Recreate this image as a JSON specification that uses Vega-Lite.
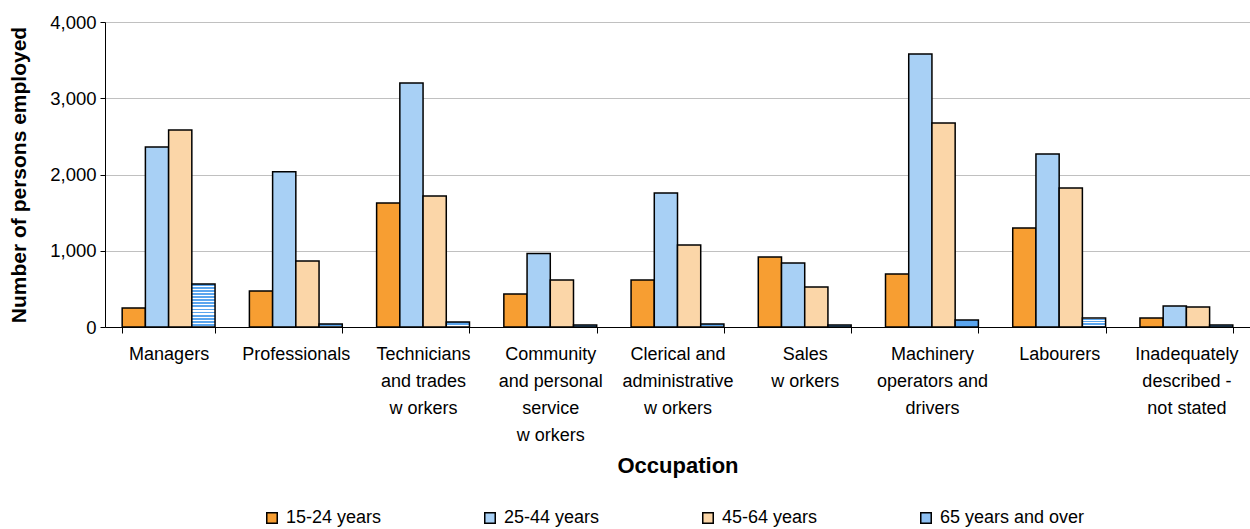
{
  "$schema": "https://vega.github.io/schema/vega-lite/v6.json",
  "autosize": "none",
  "width": 1145,
  "height": 305,
  "padding": {"left": 105, "top": 22, "right": 0, "bottom": 202},
  "config": {
    "font": "Liberation Sans",
    "view": {"stroke": null},
    "axis": {"labelColor": "black", "titleColor": "black", "labelFont": "Liberation Sans", "titleFont": "Liberation Sans"},
    "legend": {"padding": 0}
  },
  "data": {
    "values": [
      {"occupation": "Managers", "age": "15-24 years", "persons": 250},
      {"occupation": "Managers", "age": "25-44 years", "persons": 2360},
      {"occupation": "Managers", "age": "45-64 years", "persons": 2585},
      {"occupation": "Managers", "age": "65 years and over", "persons": 565},
      {"occupation": "Professionals", "age": "15-24 years", "persons": 472},
      {"occupation": "Professionals", "age": "25-44 years", "persons": 2035},
      {"occupation": "Professionals", "age": "45-64 years", "persons": 866},
      {"occupation": "Professionals", "age": "65 years and over", "persons": 40},
      {"occupation": "Technicians and trades workers", "age": "15-24 years", "persons": 1626},
      {"occupation": "Technicians and trades workers", "age": "25-44 years", "persons": 3200},
      {"occupation": "Technicians and trades workers", "age": "45-64 years", "persons": 1718},
      {"occupation": "Technicians and trades workers", "age": "65 years and over", "persons": 66},
      {"occupation": "Community and personal service workers", "age": "15-24 years", "persons": 433},
      {"occupation": "Community and personal service workers", "age": "25-44 years", "persons": 965},
      {"occupation": "Community and personal service workers", "age": "45-64 years", "persons": 616},
      {"occupation": "Community and personal service workers", "age": "65 years and over", "persons": 26},
      {"occupation": "Clerical and administrative workers", "age": "15-24 years", "persons": 616},
      {"occupation": "Clerical and administrative workers", "age": "25-44 years", "persons": 1757},
      {"occupation": "Clerical and administrative workers", "age": "45-64 years", "persons": 1075},
      {"occupation": "Clerical and administrative workers", "age": "65 years and over", "persons": 40},
      {"occupation": "Sales workers", "age": "15-24 years", "persons": 918},
      {"occupation": "Sales workers", "age": "25-44 years", "persons": 839},
      {"occupation": "Sales workers", "age": "45-64 years", "persons": 525},
      {"occupation": "Sales workers", "age": "65 years and over", "persons": 26},
      {"occupation": "Machinery operators and drivers", "age": "15-24 years", "persons": 695},
      {"occupation": "Machinery operators and drivers", "age": "25-44 years", "persons": 3580},
      {"occupation": "Machinery operators and drivers", "age": "45-64 years", "persons": 2675},
      {"occupation": "Machinery operators and drivers", "age": "65 years and over", "persons": 92},
      {"occupation": "Labourers", "age": "15-24 years", "persons": 1298},
      {"occupation": "Labourers", "age": "25-44 years", "persons": 2269},
      {"occupation": "Labourers", "age": "45-64 years", "persons": 1823},
      {"occupation": "Labourers", "age": "65 years and over", "persons": 118},
      {"occupation": "Inadequately described - not stated", "age": "15-24 years", "persons": 118},
      {"occupation": "Inadequately described - not stated", "age": "25-44 years", "persons": 275},
      {"occupation": "Inadequately described - not stated", "age": "45-64 years", "persons": 262},
      {"occupation": "Inadequately described - not stated", "age": "65 years and over", "persons": 26}
    ]
  },
  "mark": {"type": "bar", "stroke": "black", "strokeWidth": 1.5},
  "encoding": {
    "x": {
      "field": "occupation",
      "type": "nominal",
      "sort": null,
      "scale": {"paddingInner": 0.27, "paddingOuter": 0.135},
      "axis": {
        "title": "Occupation",
        "titleFontSize": 22,
        "titleFontWeight": "bold",
        "titlePadding": 11,
        "labelAngle": 0,
        "labelFontSize": 18,
        "labelLineHeight": 27,
        "labelBaseline": "top",
        "labelPadding": 12,
        "labelLimit": 200,
        "tickBand": "extent",
        "tickSize": 6,
        "tickColor": "black",
        "domainColor": "black",
        "labelExpr": "{'Technicians and trades workers': ['Technicians', 'and trades', 'w orkers'], 'Community and personal service workers': ['Community', 'and personal', 'service', 'w orkers'], 'Clerical and administrative workers': ['Clerical and', 'administrative', 'w orkers'], 'Sales workers': ['Sales', 'w orkers'], 'Machinery operators and drivers': ['Machinery', 'operators and', 'drivers'], 'Inadequately described - not stated': ['Inadequately', 'described -', 'not stated']}[datum.value] || datum.value"
      }
    },
    "xOffset": {"field": "age", "type": "nominal", "scale": {"paddingInner": 0, "paddingOuter": 0}},
    "y": {
      "field": "persons",
      "type": "quantitative",
      "scale": {"domain": [0, 4000]},
      "axis": {
        "title": "Number of persons employed",
        "titleFontSize": 21,
        "titleFontWeight": "bold",
        "titlePadding": 20,
        "values": [0, 1000, 2000, 3000, 4000],
        "format": ",.0f",
        "labelFontSize": 18.5,
        "labelPadding": 4,
        "tickSize": 5,
        "tickColor": "black",
        "domainColor": "black",
        "gridColor": "#c0c0c0",
        "gridWidth": 1
      }
    },
    "fill": {
      "condition": {
        "test": "datum.age === '65 years and over'",
        "value": {
          "gradient": "linear", "x1": 0, "y1": 0, "x2": 0, "y2": 1,
          "stops": [
            {"offset": 0, "color": "#5aa5ee"}, {"offset": 0.0429, "color": "#5aa5ee"}, {"offset": 0.0429, "color": "#ffffff"}, {"offset": 0.0714, "color": "#ffffff"},
            {"offset": 0.0714, "color": "#5aa5ee"}, {"offset": 0.1143, "color": "#5aa5ee"}, {"offset": 0.1143, "color": "#ffffff"}, {"offset": 0.1429, "color": "#ffffff"},
            {"offset": 0.1429, "color": "#5aa5ee"}, {"offset": 0.1857, "color": "#5aa5ee"}, {"offset": 0.1857, "color": "#ffffff"}, {"offset": 0.2143, "color": "#ffffff"},
            {"offset": 0.2143, "color": "#5aa5ee"}, {"offset": 0.2571, "color": "#5aa5ee"}, {"offset": 0.2571, "color": "#ffffff"}, {"offset": 0.2857, "color": "#ffffff"},
            {"offset": 0.2857, "color": "#5aa5ee"}, {"offset": 0.3286, "color": "#5aa5ee"}, {"offset": 0.3286, "color": "#ffffff"}, {"offset": 0.3571, "color": "#ffffff"},
            {"offset": 0.3571, "color": "#5aa5ee"}, {"offset": 0.4, "color": "#5aa5ee"}, {"offset": 0.4, "color": "#ffffff"}, {"offset": 0.4286, "color": "#ffffff"},
            {"offset": 0.4286, "color": "#5aa5ee"}, {"offset": 0.4714, "color": "#5aa5ee"}, {"offset": 0.4714, "color": "#ffffff"}, {"offset": 0.5, "color": "#ffffff"},
            {"offset": 0.5, "color": "#5aa5ee"}, {"offset": 0.5429, "color": "#5aa5ee"}, {"offset": 0.5429, "color": "#ffffff"}, {"offset": 0.5714, "color": "#ffffff"},
            {"offset": 0.5714, "color": "#5aa5ee"}, {"offset": 0.6143, "color": "#5aa5ee"}, {"offset": 0.6143, "color": "#ffffff"}, {"offset": 0.6429, "color": "#ffffff"},
            {"offset": 0.6429, "color": "#5aa5ee"}, {"offset": 0.6857, "color": "#5aa5ee"}, {"offset": 0.6857, "color": "#ffffff"}, {"offset": 0.7143, "color": "#ffffff"},
            {"offset": 0.7143, "color": "#5aa5ee"}, {"offset": 0.7571, "color": "#5aa5ee"}, {"offset": 0.7571, "color": "#ffffff"}, {"offset": 0.7857, "color": "#ffffff"},
            {"offset": 0.7857, "color": "#5aa5ee"}, {"offset": 0.8286, "color": "#5aa5ee"}, {"offset": 0.8286, "color": "#ffffff"}, {"offset": 0.8571, "color": "#ffffff"},
            {"offset": 0.8571, "color": "#5aa5ee"}, {"offset": 0.9, "color": "#5aa5ee"}, {"offset": 0.9, "color": "#ffffff"}, {"offset": 0.9286, "color": "#ffffff"},
            {"offset": 0.9286, "color": "#5aa5ee"}, {"offset": 0.9714, "color": "#5aa5ee"}, {"offset": 0.9714, "color": "#ffffff"}, {"offset": 1, "color": "#ffffff"}
          ]
        }
      },
      "field": "age",
      "type": "nominal",
      "scale": {
        "domain": ["15-24 years", "25-44 years", "45-64 years", "65 years and over"],
        "range": ["#f79e32", "#a8d0f5", "#fbd6a8", "#8ec0f2"]
      },
      "legend": {
        "title": null,
        "orient": "none",
        "legendX": 158,
        "legendY": 487,
        "direction": "horizontal",
        "columns": 4,
        "gridAlign": "all",
        "columnPadding": 50,
        "symbolType": "square",
        "symbolSize": 110,
        "symbolStrokeColor": "black",
        "symbolStrokeWidth": 1.5,
        "labelFontSize": 18,
        "labelColor": "black",
        "labelOffset": 5,
        "labelLimit": 300
      }
    }
  }
}
